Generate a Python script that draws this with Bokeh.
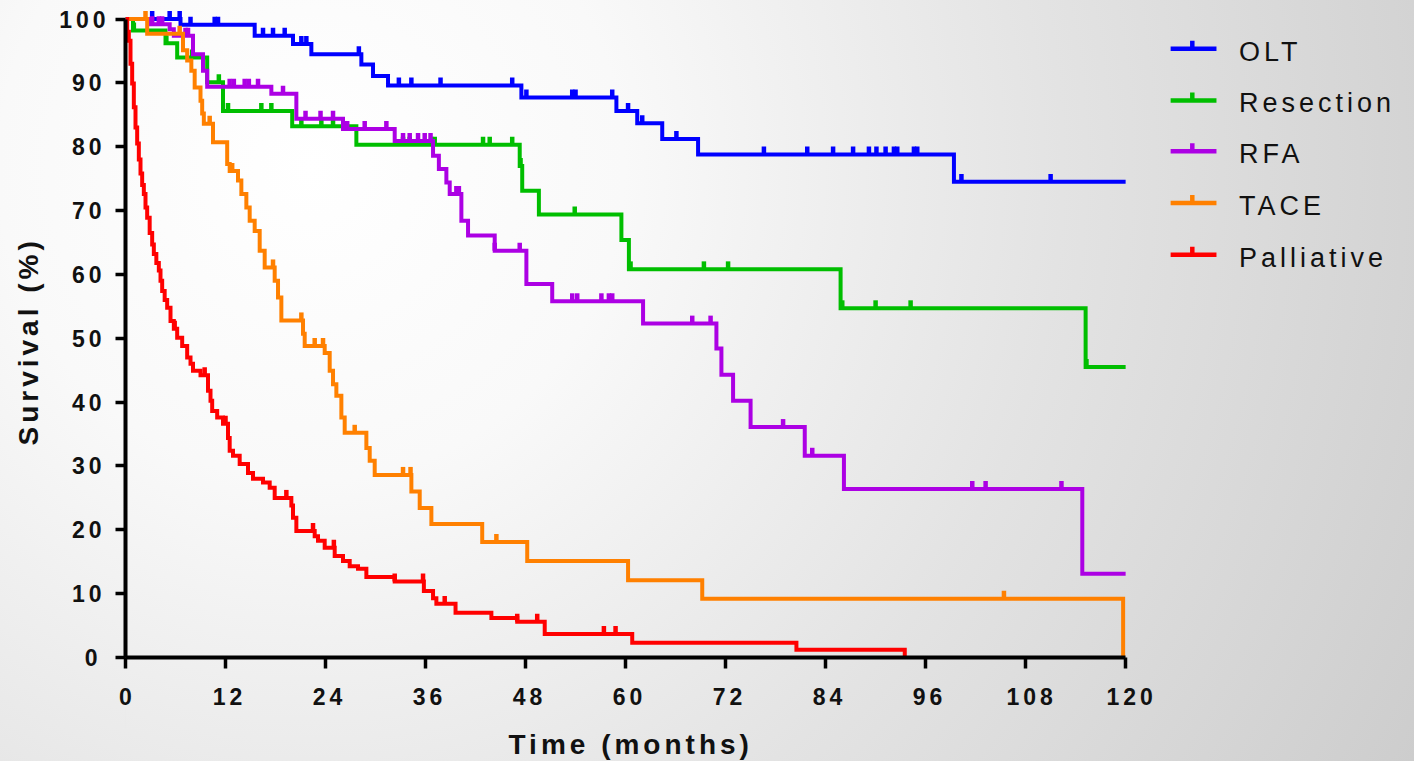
import numpy as np
from bokeh.plotting import figure
from bokeh.models import FixedTicker, Range1d, Title, LinearAxis
from bokeh.embed import file_html
from bokeh.resources import INLINE
from bokeh.core.properties import value

# ---------------- data (months, survival %) ----------------
olt_t = [6.6, 15.5, 20.1, 22.3, 28.3, 29.7, 31.5, 47.5, 58.9, 61.4, 64.4, 68.7, 99.4]
olt_s = [99.1, 97.4, 96.1, 94.5, 92.9, 91.1, 89.6, 87.7, 85.6, 83.7, 81.2, 78.8, 74.5]
olt_end = 120.0
olt_c = [3.2, 5.3, 6.5, 7.8, 10.7, 11.1, 16.5, 17.7, 19.1, 21.1, 21.7, 28.0, 32.8, 34.3,
         37.8, 46.4, 48.1, 53.6, 54.0, 58.4, 60.3, 62.0, 66.1, 76.6, 81.8, 84.9, 87.3,
         89.2, 90.1, 91.2, 92.2, 92.6, 94.6, 95.0, 100.3, 111.0]

res_t = [0.9, 4.8, 6.2, 9.8, 11.7, 20.0, 27.7, 47.3, 47.6, 49.6, 59.5, 60.4, 85.8, 115.2]
res_s = [98.2, 96.2, 94.0, 90.1, 85.6, 83.2, 80.3, 77.0, 73.1, 69.4, 65.4, 60.8, 54.7, 45.5]
res_end = 120.0
res_c = [1.0, 4.9, 8.0, 11.2, 12.3, 16.3, 17.5, 21.1, 23.5, 24.9, 33.3, 34.1, 36.7, 37.1,
         42.9, 43.7, 46.4, 47.4, 53.9, 60.6, 69.4, 72.3, 86.0, 90.0, 94.2, 115.3]

rfa_t = [3.0, 5.3, 5.8, 8.1, 9.3, 9.8, 17.5, 20.5, 26.1, 32.3, 36.9, 37.6, 38.5, 38.9,
         40.3, 41.1, 44.3, 48.1, 51.2, 62.1, 70.9, 71.5, 72.9, 75.0, 81.5, 86.2, 114.8]
rfa_s = [99.2, 98.4, 97.4, 94.5, 91.9, 89.4, 88.3, 84.4, 82.8, 80.9, 78.6, 76.5, 74.4, 72.6,
         68.4, 66.1, 63.7, 58.5, 55.8, 52.3, 48.4, 44.3, 40.2, 36.1, 31.6, 26.4, 13.1]
rfa_end = 120.0
rfa_c = [3.2, 4.0, 4.4, 7.2, 7.5, 12.5, 13.0, 14.3, 14.8, 15.9, 18.9, 21.6, 23.4, 24.9,
         26.6, 28.7, 31.3, 33.3, 34.1, 35.1, 35.9, 36.6, 39.7, 40.0, 44.3, 47.3, 53.6,
         54.2, 57.1, 58.0, 58.4, 68.0, 70.2, 78.9, 82.4, 101.6, 103.2, 112.3]

tace_t = [2.6, 6.9, 7.4, 7.9, 8.3, 9.0, 9.2, 9.4, 10.5, 12.2, 12.5, 13.5, 13.9, 14.5,
          14.9, 15.5, 16.1, 16.7, 17.9, 18.3, 18.7, 21.3, 21.5, 23.9, 24.5, 24.9, 25.3,
          25.9, 26.3, 28.9, 29.3, 29.9, 34.3, 35.3, 36.7, 42.8, 48.2, 60.3, 69.2, 119.7]
tace_s = [97.7, 95.1, 93.5, 91.9, 89.3, 87.2, 85.2, 83.6, 80.7, 77.3, 76.2, 74.7, 72.6, 70.5,
          68.4, 66.8, 63.7, 61.1, 59.0, 56.4, 52.8, 50.7, 48.8, 47.7, 44.9, 42.8, 41.0,
          37.6, 35.2, 32.8, 30.8, 28.6, 26.0, 23.4, 20.9, 18.1, 15.1, 12.1, 9.2, 0.0]
tace_end = 119.7
tace_c = [2.4, 6.5, 10.1, 12.8, 17.7, 21.1, 22.7, 23.7, 27.5, 33.3, 34.2, 44.5, 105.4]

pal_t = [0.2, 0.4, 0.6, 0.8, 1.0, 1.2, 1.4, 1.6, 1.8, 2.0, 2.2, 2.4, 2.6, 2.9, 3.2, 3.4,
         3.7, 4.0, 4.2, 4.4, 4.7, 5.0, 5.4, 5.8, 6.2, 6.8, 7.4, 7.8, 8.1, 9.0, 9.9, 10.2,
         10.4, 11.0, 11.7, 12.3, 12.5, 12.9, 13.7, 14.7, 15.3, 16.5, 17.3, 17.9, 19.9,
         20.1, 20.5, 22.7, 23.1, 23.9, 25.1, 26.1, 26.9, 27.9, 28.9, 32.3, 35.8, 36.9,
         37.3, 39.6, 43.9, 47.0, 50.3, 60.8, 80.5, 93.5]
pal_s = [98.0, 96.6, 93.0, 89.9, 86.2, 83.0, 80.5, 78.0, 75.8, 74.0, 72.6, 70.5, 68.9, 66.5,
         64.7, 63.2, 61.8, 60.6, 59.0, 57.4, 56.0, 54.8, 52.7, 51.5, 50.1, 48.8, 47.0, 46.0,
         44.9, 44.2, 41.8, 40.2, 38.6, 37.6, 36.6, 34.4, 32.4, 31.6, 30.3, 28.9, 28.0, 27.4,
         26.6, 25.0, 23.8, 21.9, 19.8, 19.0, 18.3, 17.2, 15.9, 15.1, 14.3, 13.9, 12.6,
         11.9, 10.4, 9.3, 8.4, 7.0, 6.2, 5.6, 3.7, 2.3, 1.2, 0.0]
pal_end = 93.5
pal_c = [5.9, 9.5, 12.0, 19.3, 22.5, 25.0, 32.3, 35.7, 38.3, 47.0, 49.4, 57.4, 58.8]

groups = ["OLT", "Resection", "RFA", "TACE", "Palliative"]
colors = ["#0000FF", "#00BE00", "#AC00E4", "#FF8000", "#FF0000"]
x_ticks = [0, 12, 24, 36, 48, 60, 72, 84, 96, 108, 120]
y_ticks = [0, 10, 20, 30, 40, 50, 60, 70, 80, 90, 100]
x_title = "Time (months)"
y_title = "Survival (%)"

series = [
    (olt_t, olt_s, olt_end, olt_c),
    (res_t, res_s, res_end, res_c),
    (rfa_t, rfa_s, rfa_end, rfa_c),
    (tace_t, tace_s, tace_end, tace_c),
    (pal_t, pal_s, pal_end, pal_c),
]

# ---------------- figure ----------------
W, H = 1414, 761
FONT = "Liberation Sans"
X_END = 153.7

p = figure(width=W, height=H, output_backend="svg", toolbar_location=None,
           x_range=Range1d(0, X_END), y_range=Range1d(0, 101.5),
           min_border_left=125, min_border_right=8, min_border_top=9, min_border_bottom=104,
           styles={"letter-spacing": "4px",
                   "background": "radial-gradient(circle farthest-corner at 22% 22%, #ffffff 0%, #f9f9f9 25%, #e3e3e3 60%, #cdcdcd 100%)"})
p.background_fill_alpha = 0
p.border_fill_alpha = 0
p.outline_line_color = None
p.xgrid.visible = False
p.ygrid.visible = False

for ax, ticks in ((p.xaxis[0], x_ticks), (p.yaxis[0], y_ticks)):
    ax.ticker = FixedTicker(ticks=ticks)
    ax.minor_tick_line_color = None
    ax.axis_line_width = 4
    ax.axis_line_color = "black"
    ax.major_tick_line_width = 3.5
    ax.major_tick_line_color = "black"
    ax.major_tick_in = 0
    ax.major_label_text_font = FONT
    ax.major_label_text_font_style = "bold"
    ax.major_label_text_font_size = "23px"
    ax.major_label_text_color = "#111111"
p.xaxis[0].bounds = (0, 120)
p.xaxis[0].major_tick_out = 11
p.xaxis[0].major_label_standoff = 19
p.yaxis[0].bounds = (0, 100)
p.yaxis[0].major_tick_out = 10
p.yaxis[0].major_label_standoff = 18

def level_at(ts, ss, tc):
    ts = np.asarray(ts)
    ss = np.asarray(ss)
    idx = np.searchsorted(ts, np.asarray(tc), side="right") - 1
    return np.where(idx >= 0, ss[np.clip(idx, 0, None)], 100.0)

CENS_H = 1.25
for (ts, ss, end, cs), col in zip(series, colors):
    xs = [0.0] + list(ts) + [end]
    ys = [100.0] + list(ss) + [ss[-1]]
    p.step(xs, ys, mode="after", line_color=col, line_width=4, line_join="miter")
    lv = level_at(ts, ss, cs)
    p.segment(x0=cs, y0=lv, x1=cs, y1=lv + CENS_H, line_color=col, line_width=4.5,
              line_cap="butt")

# ---------------- manual legend ----------------
leg_line_y = [95.35, 87.25, 79.3, 71.2, 63.1]
for name, col, ly in zip(groups, colors, leg_line_y):
    p.segment(x0=[125.4], y0=[ly], x1=[130.9], y1=[ly], line_color=col, line_width=4.5,
              line_cap="butt")
    p.segment(x0=[128.0], y0=[ly], x1=[128.0], y1=[ly + CENS_H], line_color=col,
              line_width=4.5, line_cap="butt")
    p.text(x=[133.6], y=[ly - 0.45], text=[name], text_font=value(FONT),
           text_font_size="27px", text_color="#111111", text_baseline="middle",
           text_align="left")

# ---------------- axis titles (side-panel titles) ----------------
# practically invisible spacer axis between the x tick labels and the x title
spacer = LinearAxis(ticker=FixedTicker(ticks=[0]), axis_line_color=None,
                    major_tick_line_color="black", major_tick_line_alpha=0.004,
                    minor_tick_line_color=None, major_tick_out=21, major_tick_in=0,
                    major_label_standoff=0, major_label_text_color=None)
p.add_layout(spacer, "below")
p.add_layout(Title(text=x_title, align="left", offset=383, vertical_align="top",
                   standoff=0, text_font=FONT, text_font_style="bold",
                   text_font_size="28px", text_color="#111111"), "below")
p.add_layout(Title(text=y_title, align="left", offset=212, vertical_align="top",
                   standoff=22, text_font=FONT, text_font_style="bold",
                   text_font_size="28px", text_color="#111111"), "left")

open("out.html", "w").write(file_html(p, INLINE))
